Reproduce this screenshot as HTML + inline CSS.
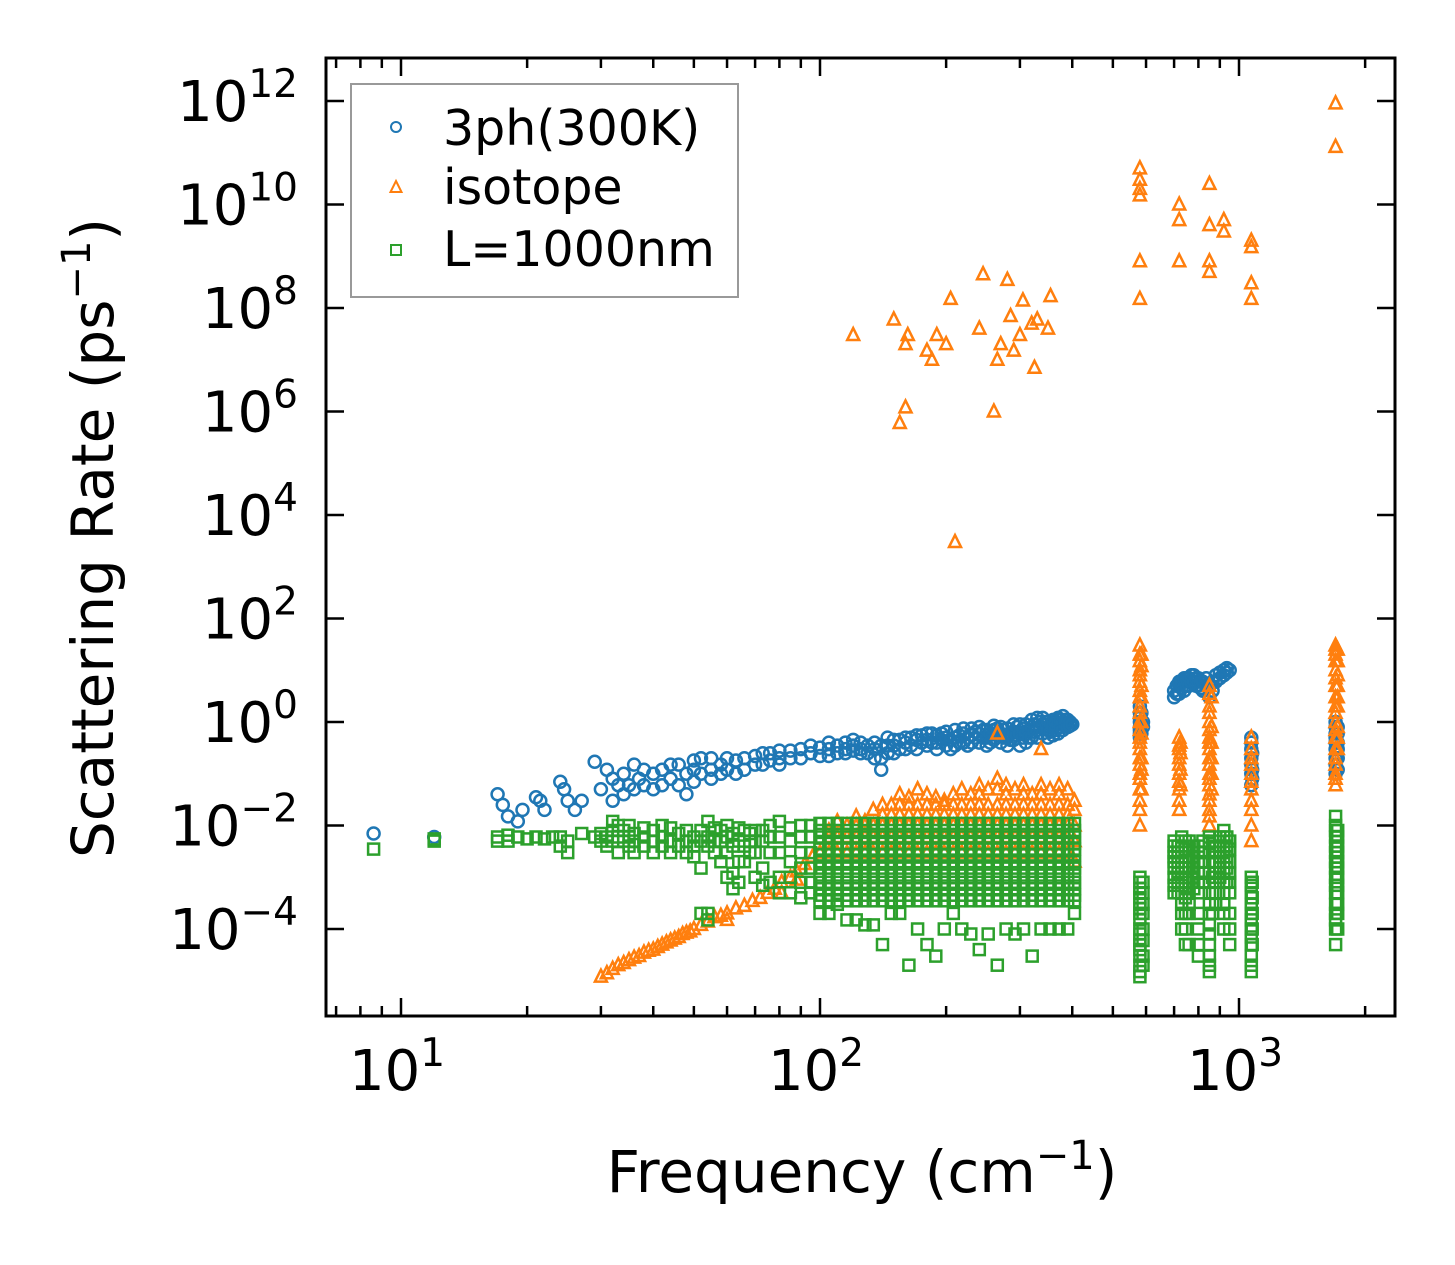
<!DOCTYPE html>
<html><head><meta charset="utf-8">
<style>
html,body{margin:0;padding:0;background:#fff;}
svg{display:block;font-family:"DejaVu Sans","Liberation Sans",sans-serif;}
</style></head>
<body>
<svg id="chart" width="1455" height="1265" viewBox="0 0 1455 1265" xmlns="http://www.w3.org/2000/svg">
<rect x="0" y="0" width="1455" height="1265" fill="#fff"/>
<g id="marks"></g>
<g id="axes"></g>
<g>
  <rect x="351" y="84" width="387" height="213" fill="#fff" fill-opacity="0.8" stroke="#999" stroke-width="2"/>
  <g>
    <circle cx="396" cy="127" r="5" fill="none" stroke="#1f77b4" stroke-width="2"/>
    <text x="443" y="145" font-size="49">3ph(300K)</text>
  </g>
  <g>
    <polygon points="396,181 401.5,192 390.5,192" fill="none" stroke="#ff7f0e" stroke-width="2"/>
    <text x="443" y="204" font-size="49">isotope</text>
  </g>
  <g>
    <rect x="391" y="245" width="10" height="10" fill="none" stroke="#2ca02c" stroke-width="2"/>
    <text x="443" y="266" font-size="49">L=1000nm</text>
  </g>
</g>
<text x="862" y="1192" font-size="58" text-anchor="middle">Frequency (cm<tspan font-size="40" dy="-23">−1</tspan><tspan dy="23">)</tspan></text>
<text transform="translate(113,538) rotate(-90)" font-size="58" text-anchor="middle">Scattering Rate (ps<tspan font-size="40" dy="-23">−1</tspan><tspan dy="23">)</tspan></text>
</svg>
<script>
// ---- data (frequency cm^-1, scattering rate ps^-1) ----
const blueCols = [
[8.6,.007],[12,.006],[17,.04],[17.5,.025],[18,.015],[19,.012],[19.5,.02],[21,.035],[21.5,.03],[22,.02],[24,.07],[24.5,.05],[25,.03],[26,.02],[27,.03],
[29,.17],[30,.05],[31,.12],[32,.08,.03],[33,.06],[34,.1,.04],[35,.06],[36,.15,.05],[37,.08],[38,.12,.06],[40,.05,.1],[42,.12,.06],[44,.08,.15],[46,.15,.06],[48,.04,.1],
[50,.12,.07,.18],[52,.1,.2],[55,.2,.12,.08],[58,.15,.1],[60,.12,.2],[63,.18,.1],[66,.2,.12],[70,.22,.15],[73,.15,.25],[76,.25,.18],[80,.2,.28,.15],[85,.28,.2],[90,.3,.2],[95,.25,.35],
[100,.32,.22],[105,.3,.4,.22],[110,.35,.25],[115,.3,.4,.25],[120,.35,.28,.45],[125,.3,.4,.25],[130,.25,.35],[135,.2,.3,.4],[140,.12,.2,.35],[145,.25,.35,.5],[150,.35,.45,.25],[155,.3,.45],[160,.4,.3,.5],[165,.35,.5],[170,.3,.45,.55],[175,.4,.55],[180,.45,.35,.6],[185,.4,.6],[190,.4,.55,.3],[195,.45,.6],[200,.35,.5,.65],[205,.45,.3],[210,.5,.35,.7],[215,.55,.4],[220,.6,.4,.75],[225,.5,.35],[230,.55,.4,.75],[235,.5,.65],[240,.4,.6,.8],[245,.5,.7],[250,.5,.35,.7],[255,.6,.4],[260,.7,.45,.85],[265,.55,.75],[270,.6,.4,.8],[275,.5,.7],[280,.5,.35,.75],[285,.6,.45],[290,.45,.65,.9],[295,.55,.8],[300,.35,.6,.9],[305,.5,.75],[310,.6,.4,.9],[315,.7,.5],[320,.8,.5,1.1],[325,.65,.9],[330,1.2,.7,.5],[335,.8,1],[340,.9,.6,1.2],[345,.75,1],[350,.7,.5,1],[355,.9,.65],[360,.8,.55,1.1],[365,.7,1],[370,.9,.6,1.2],[375,.8,1.1],[380,1,.7,1.3],[385,.9,1.1],[390,1.1,.8],[395,1,.85],[400,.9],
[580,2,1.5,1.2,1,.8,.7,.6,.5],[585,1.5,.9,.6],[590,.8,1],[700,3,4],[710,3.5,5],[720,5,3.5,6],[730,4.5,6],[740,4,6,7],[750,5,7],[760,7,5],[770,6,8],[780,8,6],[790,5,7],[800,5,7],[810,6,4.5],[820,4,6],[835,5,7],[850,5,3],[865,6,4],[880,6,8],[900,7,9],[920,8,10],[935,9,11],[950,10],
[1070,.3,.2,.1,.06,.15,.4,.5],[1075,.25,.12,.08],[1700,1,.8,.6,.4,.3,.2,.15,.1,.5],[1720,.8,.6,.4,.3,.2,.12]
];
const orangeCols = [
[30,1.2e-5],[31,1.4e-5],[32,1.7e-5],[33,2e-5],[34,2.2e-5],[35,2.5e-5],[36,2.8e-5],[37,3e-5],[38,3.5e-5],[39,3.8e-5],[40,4e-5],[41,4.5e-5],[42,5e-5],[43,5.5e-5],[44,6e-5],[45,6.5e-5],[46,7e-5],[47,8e-5],[48,8.5e-5],[49,9e-5],[50,1e-4],[52,1.2e-4],[54,1.4e-4],[56,1.7e-4],[58,1.8e-4],[60,2e-4,1.5e-4],[63,2.5e-4],[66,2.8e-4],[69,3.5e-4],[72,4e-4],[75,5e-4],[78,6e-4],[81,8e-4,5e-4],[85,1e-3],[88,1.3e-3,9e-4],[92,1.8e-3],[96,2.5e-3],[100,3e-3],
[105,.003,.006,.008],[110,.003,.006,.012],[116,.003,.006,.01],[122,.003,.006,.01,.015],[128,.003,.006,.01,.012],[134,.003,.006,.01,.02],[141,.003,.006,.01,.016,.025],[148,.003,.006,.01,.016,.025],[155,.003,.006,.01,.016,.025,.04],[163,.003,.006,.01,.016,.025,.035],[171,.003,.006,.01,.016,.025,.05],[180,.003,.006,.01,.016,.025,.04],[189,.003,.006,.01,.016,.025,.035],[198,.003,.006,.01,.016,.025,.03],[208,.003,.006,.01,.016,.025,.04],[218,.003,.006,.01,.016,.025,.05],[229,.003,.006,.01,.016,.025,.04],[240,.003,.006,.01,.016,.025,.04,.06],[252,.003,.006,.01,.016,.025,.05],[265,.003,.006,.01,.016,.025,.05,.08,.6],[278,.003,.006,.01,.016,.025,.04,.06],[292,.003,.006,.01,.016,.025,.05],[306,.003,.006,.01,.016,.025,.04,.06],[321,.003,.006,.01,.016,.025,.04],[337,.003,.006,.01,.016,.025,.04,.06,.3],[354,.003,.006,.01,.016,.025,.05],[372,.003,.006,.01,.016,.025,.04,.06],[390,.003,.006,.01,.016,.025,.05],[405,.002,.005,.01,.02,.03],
[120,3e7],[150,6e7],[155,6e5],[160,1.2e6,2e7],[162,3e7],[180,1.5e7],[185,1e7],[190,3e7],[200,2e7],[205,1.5e8],[210,3e3],[240,4e7],[245,4.5e8],[260,1e6],[265,1e7],[270,2e7],[280,3.5e8],[285,7e7],[290,1.5e7],[300,3e7],[305,1.4e8],[320,5e7],[325,7e6],[330,6e7],[350,4e7],[355,1.7e8],
[580,5e10,3e10,2e10,1.5e10,8e8,1.5e8],[720,1e10,5e9,8e8],[850,2.5e10,4e9,8e8,5e8],[920,5e9,3e9],[1070,1.5e9,2e9,3e8,1.5e8],[1700,9e11,1.3e11],
[580,30,20,15,10,8,6,4,3,2,1.5,1,.7,.5,.4,.3,.2,.15,.1,.08,.05,.03,.02,.01],[585,20,12,5,3,1,.6,.2,.12,.05],[720,.5,.35,.3,.2,.15,.1,.07,.05,.03,.02],[725,.4,.25,.12,.06],[850,5,3.5,2,1.5,1,.7,.5,.4,.3,.2,.15,.1,.08,.06,.04,.03,.02,.015,.01],[860,3,.8,.4,.2,.1,.05],[1070,.5,.3,.2,.15,.1,.07,.05,.03,.02,.01,.005],[1700,30,25,20,15,10,7,5,3,2,1.5,1,.7,.5,.3,.2,.15,.1,.08,.06],[1720,25,15,8,5,3,2,.8,.5,.3]
];
const greenCols = [
[8.6,.0035],[12,.005,.0055],[17,.005,.006],[18,.005,.0065],[19,.006],[20,.0055],[21,.006],[22,.0055],[23,.006],[24,.004,.006],[25,.003,.005],[27,.007],[29,.006],[30,.005,.007],[31,.006,.004],[32,.012,.008,.005],[33,.01,.006,.003],[34,.008,.005],[35,.01,.006,.004],[36,.007,.005,.003],[38,.009,.006,.004],[40,.008,.005,.003],[42,.01,.006,.004],[44,.009,.005,.003],[46,.007,.004],[48,.008,.005,.003],[50,.006,.004,.0025],[52,.008,.005,.0015,.0002],[54,.012,.006,.004,.0002,.00015],[56,.009,.005,.003],[58,.008,.005,.002],[60,.01,.006,.003,.001],[62,.007,.004,.0012,.0006],[64,.009,.005,.002,.0008],[66,.008,.004,.002],[68,.007,.005,.003],[70,.008,.005,.003,.001],[73,.008,.005,.0015,.0007],[76,.01,.006,.003,.0008],[80,.012,.006,.003,.001,.0005],[85,.009,.005,.002,.001,.0005],[90,.01,.006,.003,.0015,.0008,.0004],[95,.01,.006,.003,.0015,.0008,.0005],
[580,.001,.0008,.0006,.0005,.0004,.0003,.00025,.0002,.00015,.0001,.00008,.00006,.00005,.00004,.00003,.00002,.000015,.000012],[590,.0008,.0005,.0003,.0002,.0001,.00006,.00003,.00002],
[700,.005,.004,.003,.0025,.002,.0015,.001,.0007,.0005],[715,.004,.003,.002,.0012,.0008,.0005],[730,.006,.004,.003,.002,.0015,.001,.0007,.0005,.0003,.0002,.0001],[745,.005,.0035,.0025,.0015,.001,.0006,.0004,.0002,.0001,.00005],[760,.005,.0035,.002,.0015,.0008,.0005,.0003,.0002,.00005],[780,.004,.0025,.0015,.001,.0006],[800,.004,.003,.002,.0012,.0008,.0005,.0002,.0001,.00005,.00003],[820,.005,.003,.002,.0012,.0008],[850,.006,.0045,.003,.002,.0012,.0008,.0005,.0003,.0002,.00012,.00008,.00005,.00003,.00002,.000015],[865,.005,.003,.002,.001,.0005,.0002],[880,.004,.003,.002,.0012,.0008,.0005,.0003],[900,.006,.004,.0025,.0015,.001],[920,.008,.006,.004,.003,.002,.0012,.0008,.0005,.0003,.0002,.0001],[935,.006,.004,.0025,.0015,.0008],[950,.005,.0035,.002,.0012,.0008,.0005,.0002,.0001,.00005],
[1070,.001,.0007,.0005,.0003,.0002,.00015,.0001,.00007,.00005,.00003,.00002,.000015],[1075,.0008,.0004,.0002,.0001,.00005],
[1700,.015,.01,.008,.006,.004,.003,.002,.0015,.001,.0007,.0005,.0003,.0002,.00015,.0001,.00005],[1720,.008,.006,.004,.003,.002,.0015,.001,.0007,.0005,.0003,.0002,.0001]
];
const greenBandF = [100,105,110,116,122,128,134,141,148,155,163,171,180,189,198,208,218,229,240,252,265,278,292,306,321,337,354,372,390,405];
const greenBandR = [.011,.008,.006,.0045,.0035,.0027,.002,.0015,.0011,.0008,.0006,.00045,.00035];
const greenBandLow = [.0002,.0002,.0003,.00015,.00015,.00012,.00012,.00005,.0002,.0002,.00002,.0001,.00005,.00003,.0001,.0002,.0001,.00008,.00004,.00008,.00002,.0001,.00008,.0001,.00003,.0001,.0001,.0001,.0001,.0002];
const xTickLabels = ["1","2","3"];
const yTickLabels = ["12","10","8","6","4","2","0","−2","−4"];
const yTickExps = [12,10,8,6,4,2,0,-2,-4];

// ---- axes mapping ----
const L=326,R=1395,T=58,B=1016;
const xPerDec=419, x10=401;
const yPerDec=51.75, y0=722;
function X(f){return x10+(Math.log10(f)-1)*xPerDec;}
function Y(r){return y0-Math.log10(r)*yPerDec;}
const NS="http://www.w3.org/2000/svg";
const marks=document.getElementById('marks');
const axes=document.getElementById('axes');
function mk(tag,attrs,parent){const e=document.createElementNS(NS,tag);for(const k in attrs)e.setAttribute(k,attrs[k]);parent.appendChild(e);return e;}

const gB=mk('g',{},marks);


blueCols.forEach(c=>{for(let i=1;i<c.length;i++){const m=mk('circle',{cx:X(c[0]).toFixed(1),cy:Y(c[i]).toFixed(1),r:6,fill:'none',stroke:'#1f77b4','stroke-width':2.5},gB);

}});

const gO=mk('g',{},marks);


orangeCols.forEach(c=>{for(let i=1;i<c.length;i++){const x=X(c[0]),y=Y(c[i]);const m=mk('polygon',{points:`${x},${y-7} ${x+6},${y+5} ${x-6},${y+5}`,fill:'none',stroke:'#ff7f0e','stroke-width':2.5},gO);

}});

const gG=mk('g',{},marks);


function sq(f,r){const x=X(f),y=Y(r);const m=mk('rect',{x:(x-5.5).toFixed(1),y:(y-5.5).toFixed(1),width:11,height:11,fill:'none',stroke:'#2ca02c','stroke-width':2.5},gG);

}
greenCols.forEach(c=>{for(let i=1;i<c.length;i++)sq(c[0],c[i]);});
greenBandF.forEach((f,j)=>{greenBandR.forEach(r=>sq(f,r));sq(f,greenBandLow[j]);});

// ---- frame & ticks ----
mk('rect',{x:L,y:T,width:R-L,height:B-T,fill:'none',stroke:'#000','stroke-width':3},axes);
for(let d=0;d<=3;d++){for(let k=1;k<=9;k++){const f=k*Math.pow(10,d);const x=X(f);if(x<L||x>R)continue;const len=k===1?18:10;
mk('line',{x1:x,y1:B,x2:x,y2:B-len,stroke:'#000','stroke-width':2.5},axes);
mk('line',{x1:x,y1:T,x2:x,y2:T+len,stroke:'#000','stroke-width':2.5},axes);}}
xTickLabels.forEach((s,i)=>{const x=X(Math.pow(10,i+1));const t=mk('text',{x:x-4,y:1090,'font-size':56,'text-anchor':'middle'},axes);


t.appendChild(document.createTextNode('10'));const sp=mk('tspan',{'font-size':39,dy:-24},t);sp.textContent=s;});
yTickExps.forEach((e,i)=>{const y=Y(Math.pow(10,e));
mk('line',{x1:L,y1:y,x2:L+18,y2:y,stroke:'#000','stroke-width':2.5},axes);
mk('line',{x1:R,y1:y,x2:R-18,y2:y,stroke:'#000','stroke-width':2.5},axes);
const t=mk('text',{x:298,y:y+20,'font-size':56,'text-anchor':'end'},axes);


t.appendChild(document.createTextNode('10'));const sp=mk('tspan',{'font-size':39,dy:-24},t);sp.textContent=yTickLabels[i];});
</script>
</body></html>
